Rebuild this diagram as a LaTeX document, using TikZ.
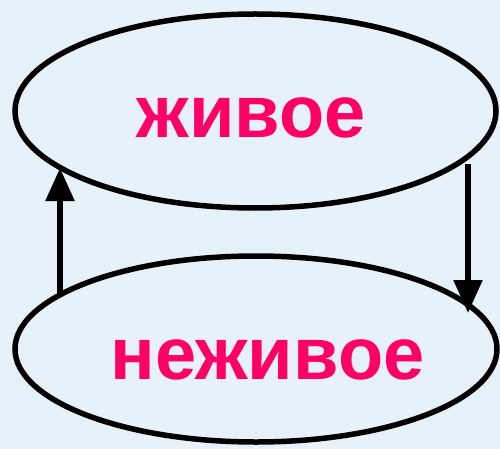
\documentclass[tikz,border=0pt]{standalone}
\usepackage{fontspec}
\setmainfont{Liberation Sans}
\usepackage{tikz}
\usetikzlibrary{shapes.geometric, positioning, arrows.meta}
\definecolor{bgblue}{HTML}{E7F1F9}
\definecolor{word}{HTML}{FF0066}

\begin{document}
\begin{tikzpicture}[x=1pt,y=-1pt,line width=5.5pt,
    oval/.style={ellipse,draw,inner sep=0pt,fill=bgblue},
    word/.style={text=word,font=\fontsize{74}{78}\selectfont\bfseries,inner sep=0pt},
    >={Triangle[length=33pt,width=28pt]}]
      \fill[bgblue] (0,0) rectangle (500,449);
      \useasboundingbox (0,0) rectangle (500,449);
      \node[oval,minimum width=481pt,minimum height=194pt] (o_top) at (255.5,111) {};
      \node[oval,minimum width=482pt,minimum height=186pt] (o_bot) at (256,349) {};
      \node[word] (w_top) at (251,118) {живое};
      \node[word] (w_bot) at (267.5,360) {неживое};
      \coordinate (up_0) at (60,297);
      \coordinate (up_1) at (60,168);
      \coordinate (dn_0) at (468,164);
      \coordinate (dn_1) at (468,313);
      \path[->]
      (up_0) edge (up_1)
      (dn_0) edge (dn_1);
\end{tikzpicture}
\end{document}
